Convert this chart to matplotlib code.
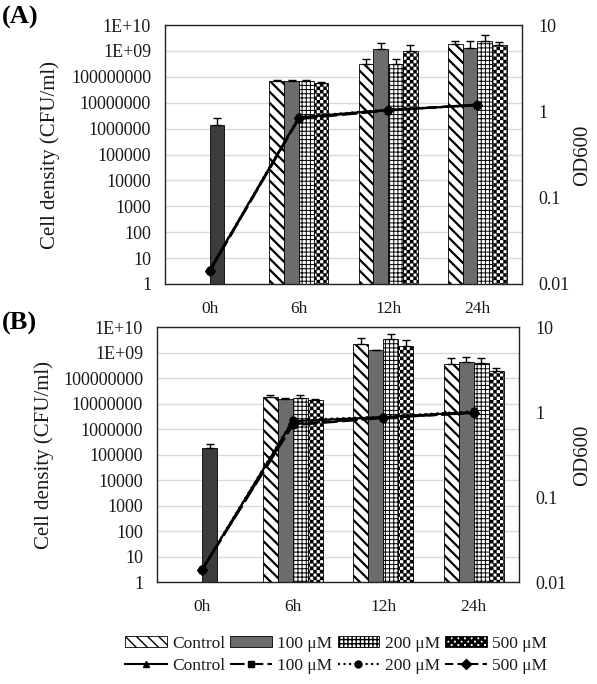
import numpy as np
import matplotlib
matplotlib.use('Agg')
import matplotlib.pyplot as plt
import matplotlib.hatch as mhatch
from matplotlib.path import Path
from matplotlib.lines import Line2D
from matplotlib.patches import Patch


# checkerboard hatch, drawn through the '*' symbol
class CheckerHatch(mhatch.HatchPatternBase):
    def __init__(self, hatch, density):
        self.n = 30 if '*' in hatch else 0
        self.cells = [(i, j) for i in range(self.n) for j in range(self.n)
                      if (i + j) % 2 == 0]
        self.num_vertices = len(self.cells) * 5

    def set_vertices_and_codes(self, vertices, codes):
        s = 1.0 / self.n
        sq = np.array([[0, 0], [1, 0], [1, 1], [0, 1], [0, 0]]) * s
        cc = [Path.MOVETO, Path.LINETO, Path.LINETO, Path.LINETO, Path.CLOSEPOLY]
        for k, (i, j) in enumerate(self.cells):
            vertices[5 * k:5 * k + 5] = sq + [i * s, j * s]
            codes[5 * k:5 * k + 5] = cc


mhatch._hatch_types = [t for t in mhatch._hatch_types if t is not mhatch.Stars] + [CheckerHatch]

# ---- data ----
times = ['0h', '6h', '12h', '24h']
groups = ['Control', '100 \u03bcM', '200 \u03bcM', '500 \u03bcM']
ytick_labels = ['1', '10', '100', '1000', '10000', '100000', '1000000',
                '10000000', '100000000', '1E+09', '1E+10']
od_ticks = ['0.01', '0.1', '1', '10']

# panel A: CFU at 6h, 12h, 24h per group, upper error
cfu_a = [[7.2e7, 3.1e8, 1.85e9],
         [7.0e7, 1.2e9, 1.3e9],
         [7.2e7, 3.1e8, 2.4e9],
         [5.8e7, 1.0e9, 1.7e9]]
cfu_a_err = [[0.6e7, 1.8e8, 0.5e9],
             [0.8e7, 0.9e9, 1.1e9],
             [0.6e7, 1.8e8, 1.6e9],
             [0.3e7, 0.7e9, 0.6e9]]
cfu0_a, cfu0_a_err = 1.4e6, 1.1e6
od_a = [[0.0145, 0.85, 1.04, 1.18],
        [0.014, 0.82, 1.02, 1.20],
        [0.0145, 0.86, 1.05, 1.17],
        [0.014, 0.84, 1.03, 1.19]]

# panel B
cfu_b = [[1.8e7, 2.1e9, 3.5e8],
         [1.5e7, 1.26e9, 4.2e8],
         [1.6e7, 3.4e9, 3.9e8],
         [1.4e7, 1.8e9, 1.9e8]]
cfu_b_err = [[0.4e7, 1.6e9, 2.5e8],
             [0.2e7, 0.05e9, 2.5e8],
             [0.6e7, 2.0e9, 2.2e8],
             [0.1e7, 1.4e9, 0.6e8]]
cfu0_b, cfu0_b_err = 1.8e5, 0.7e5
od_b = [[0.0142, 0.78, 0.87, 1.00],
        [0.014, 0.70, 0.85, 0.98],
        [0.0142, 0.80, 0.88, 1.02],
        [0.014, 0.72, 0.86, 0.97]]

# ---- styles ----
serif = 'Liberation Serif'
txt = '#1a1a1a'
plt.rcParams['font.family'] = serif
plt.rcParams['text.color'] = txt
plt.rcParams['axes.labelcolor'] = txt
plt.rcParams['xtick.color'] = txt
plt.rcParams['ytick.color'] = txt

bar_styles = [dict(facecolor='white', hatch='\\\\\\', hlw=1.6),
              dict(facecolor='#6c6c6c', hatch=None, hlw=1.0),
              dict(facecolor='white', hatch='++++', hlw=0.7),
              dict(facecolor='white', hatch='*', hlw=0.2)]
line_styles = [dict(ls='-', marker='^'),
               dict(ls=(0, (7, 2)), marker='s'),
               dict(ls=':', marker='o'),
               dict(ls=(0, (4, 2)), marker='D')]

W = 0.165
offsets = [-1.5 * W, -0.5 * W, 0.5 * W, 1.5 * W]


def style_bar(rects, st):
    for r in rects:
        r.set_facecolor(st['facecolor'])
        r.set_edgecolor('black')
        r.set_linewidth(0.6)
        if st['hatch']:
            r.set_hatch(st['hatch'])
        if hasattr(r, 'set_hatch_linewidth'):
            r.set_hatch_linewidth(st['hlw'])


def panel(ax, cfu, cfu_err, cfu0, cfu0_err, od):
    x = np.arange(len(times))
    for k in range(4):
        xs = x[1:] + offsets[k]
        rects = ax.bar(xs, cfu[k], W, bottom=1)
        style_bar(rects, bar_styles[k])
        ax.errorbar(xs, cfu[k], yerr=[np.zeros(3), cfu_err[k]], fmt='none',
                    ecolor='black', elinewidth=1, capsize=3, capthick=1)
    ax.bar(x[0] + 0.5 * W, cfu0, W, bottom=1, color='#3c3c3c',
           edgecolor='black', linewidth=0.6)
    ax.errorbar(x[0] + 0.5 * W, cfu0, yerr=[[0], [cfu0_err]], fmt='none',
                ecolor='black', elinewidth=1, capsize=3, capthick=1)
    ax.set_yscale('log')
    ax.set_ylim(1, 1e10)
    ax.set_xlim(-0.5, 3.5)
    ax.set_yticks([10.0 ** k for k in range(11)])
    ax.set_yticklabels(ytick_labels)
    ax.minorticks_off()
    ax.set_xticks(x)
    ax.set_xticklabels(times)
    ax.tick_params(axis='y', length=0, labelsize=13, pad=10)
    ax.tick_params(axis='x', length=0, labelsize=12.5, pad=12)
    ax.grid(axis='y', color='#d9d9d9', lw=1)
    ax.set_axisbelow(True)
    for sp in ax.spines.values():
        sp.set_color('#222222')
        sp.set_linewidth(1)

    ax2 = ax.twinx()
    for k in range(4):
        ax2.plot(x, od[k], color='black', lw=1.6, ls=line_styles[k]['ls'],
                 marker=line_styles[k]['marker'], ms=5)
    ax2.set_yscale('log')
    ax2.set_ylim(0.01, 10)
    ax2.set_yticks([0.01, 0.1, 1, 10])
    ax2.set_yticklabels(od_ticks)
    ax2.minorticks_off()
    ax2.tick_params(axis='y', length=0, labelsize=13, pad=12)
    for sp in ax2.spines.values():
        sp.set_visible(False)
    return ax2


fig = plt.figure(figsize=(5.97, 6.84), dpi=100)
axA = fig.add_axes([0.2764, 0.5848, 0.5980, 0.3786])
axB = fig.add_axes([0.2630, 0.1491, 0.6063, 0.3728])
panel(axA, cfu_a, cfu_a_err, cfu0_a, cfu0_a_err, od_a)
panel(axB, cfu_b, cfu_b_err, cfu0_b, cfu0_b_err, od_b)

fig.text(50 / 597, 1 - 155 / 684, 'Cell density (CFU/ml)', rotation=90,
         ha='center', va='center', fontsize=15)
fig.text(44 / 597, 1 - 455 / 684, 'Cell density (CFU/ml)', rotation=90,
         ha='center', va='center', fontsize=15)
fig.text(583 / 597, 1 - 155 / 684, 'OD600', rotation=90,
         ha='center', va='center', fontsize=15)
fig.text(583 / 597, 1 - 455 / 684, 'OD600', rotation=90,
         ha='center', va='center', fontsize=15)
fig.text(0.003, 1 - 17 / 684, '(A)', fontsize=19, fontweight='bold',
         ha='left', va='center', color='black')
fig.text(0.003, 1 - 323 / 684, '(B)', fontsize=19, fontweight='bold',
         ha='left', va='center', color='black')

# legend: bars row then lines row (column-major fill)
handles = []
labels = []
for k in range(4):
    p = Patch(facecolor=bar_styles[k]['facecolor'], edgecolor='black',
              hatch=bar_styles[k]['hatch'], linewidth=0.6)
    if hasattr(p, 'set_hatch_linewidth'):
        p.set_hatch_linewidth(bar_styles[k]['hlw'])
    ln = Line2D([], [], color='black', lw=1.5, ls=line_styles[k]['ls'],
                marker=line_styles[k]['marker'], ms=5)
    handles += [p, ln]
    labels += [groups[k], groups[k]]
fig.legend(handles, labels, ncol=4, loc='center',
           bbox_to_anchor=(336 / 597, 1 - 655 / 684), frameon=False,
           fontsize=12.5, handlelength=2.4, handleheight=0.6,
           handletextpad=0.3, columnspacing=0.3, labelspacing=0.35)

fig.savefig('out.png', dpi=100)
